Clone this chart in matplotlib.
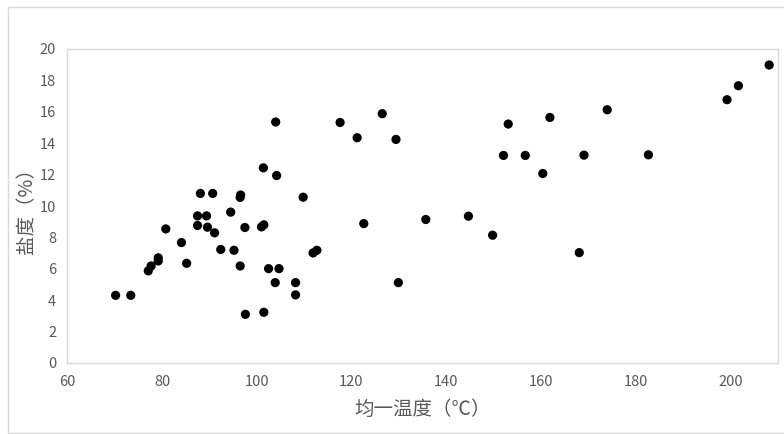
import matplotlib
matplotlib.use("Agg")
import matplotlib.pyplot as plt
from matplotlib.patches import Rectangle

plt.rcParams['font.family'] = ['Noto Sans CJK SC', 'DejaVu Sans']

temperature = [70.2, 73.4, 77.1, 77.7, 79.2, 79.2, 80.8, 84.1, 85.2, 87.5,
               87.5, 88.1, 89.4, 89.6, 90.7, 91.1, 92.4, 94.5, 95.2, 96.5,
               96.6, 96.5, 97.5, 97.6, 101.0, 101.5, 101.4, 101.5, 102.5, 103.9,
               104.0, 104.2, 104.7, 108.2, 108.2, 109.8, 111.9, 112.7, 117.6, 121.2,
               122.6, 126.5, 129.4, 129.9, 135.7, 144.7, 149.8, 152.1, 153.1, 156.7,
               160.4, 161.9, 168.1, 169.1, 174.0, 182.7, 199.3, 201.7, 208.2]
salinity = [4.31, 4.31, 5.87, 6.18, 6.5, 6.7, 8.54, 7.67, 6.35, 8.76,
            9.37, 10.8, 9.37, 8.65, 10.8, 8.29, 7.23, 9.61, 7.18, 6.18,
            10.7, 10.55, 8.63, 3.1, 8.67, 8.8, 12.43, 3.23, 6.01, 5.12,
            15.35, 11.94, 6.01, 5.12, 4.34, 10.56, 7.01, 7.18, 15.32, 14.35,
            8.88, 15.88, 14.24, 5.12, 9.14, 9.35, 8.14, 13.22, 15.22, 13.22,
            12.07, 15.64, 7.03, 13.24, 16.13, 13.26, 16.77, 17.66, 18.98]

x_ticks = [60, 80, 100, 120, 140, 160, 180, 200]
y_ticks = [0, 2, 4, 6, 8, 10, 12, 14, 16, 18, 20]
x_label = "均一温度（℃）"
y_label = "盐度（%）"

W, H = 784, 434
fig = plt.figure(figsize=(W / 100, H / 100), dpi=100)
ax = fig.add_axes([67.3 / W, 1 - 363 / H, (777.7 - 67.3) / W, (363 - 49) / H])

ax.scatter(temperature, salinity, s=44, color='black', edgecolors='none', zorder=3)

ax.set_xlim(60, 210)
ax.set_ylim(0, 20)
ax.set_xticks(x_ticks)
ax.set_yticks(y_ticks)

gray_text = '#595959'
ax.tick_params(axis='both', length=0, labelsize=10.5, colors=gray_text)
ax.tick_params(axis='y', pad=8)
ax.tick_params(axis='x', pad=9)
for s in ax.spines.values():
    s.set_color('#d9d9d9')
    s.set_linewidth(1)

ax.set_xlabel(x_label, fontsize=14, color=gray_text, labelpad=7)
ax.set_ylabel(y_label, fontsize=14, color=gray_text, labelpad=2)

border = Rectangle((8 / W, 1 / H), (W - 8) / W + 0.01, (433 - 6) / H - 0.002,
                   transform=fig.transFigure, fill=False, edgecolor='#d9d9d9',
                   linewidth=1)
fig.patches.append(border)

fig.savefig('out.png', dpi=100)
